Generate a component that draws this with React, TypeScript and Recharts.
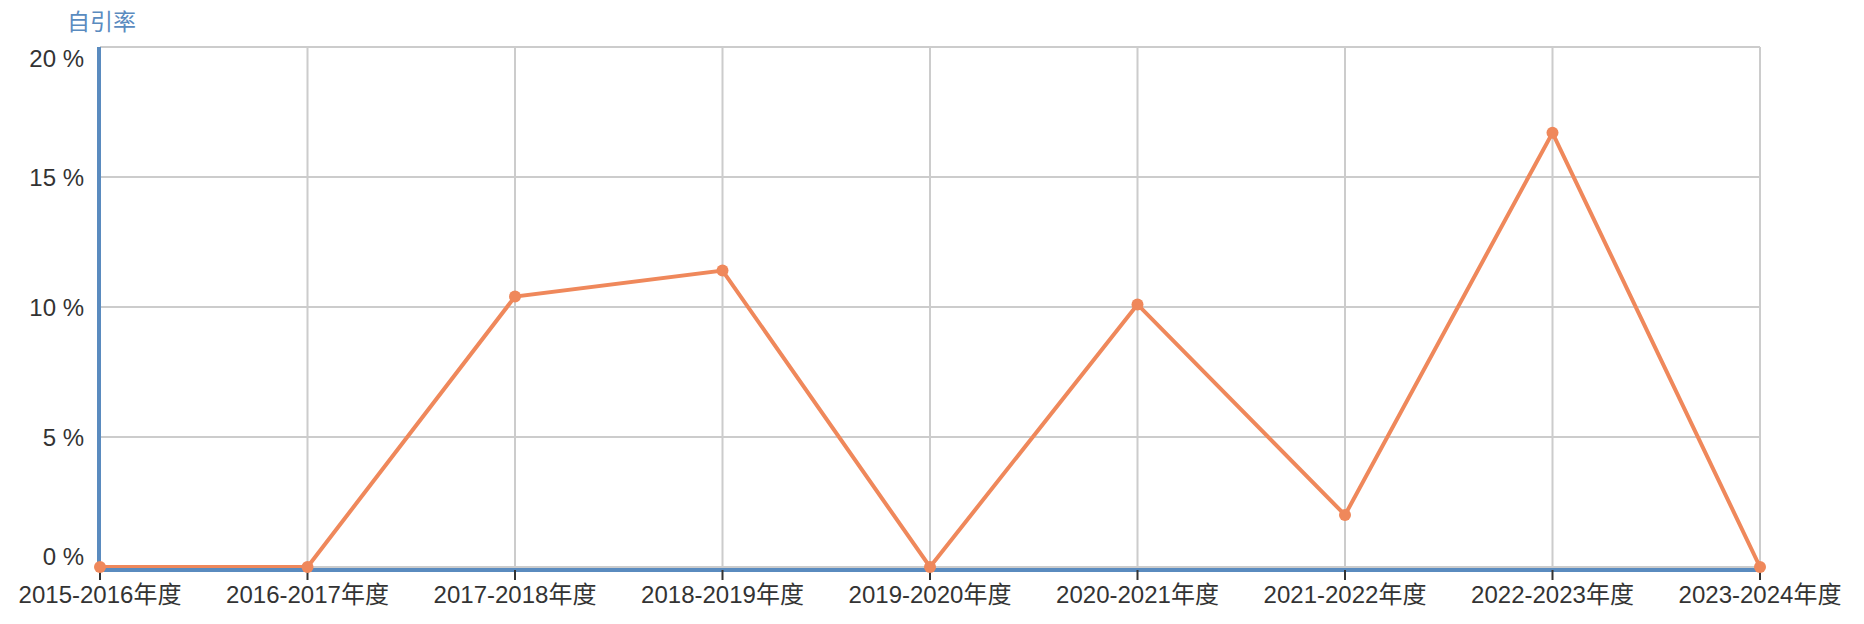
import { LineChart, Line, XAxis, YAxis, CartesianGrid } from "recharts"

const years = [
  "2015-2016年度",
  "2016-2017年度",
  "2017-2018年度",
  "2018-2019年度",
  "2019-2020年度",
  "2020-2021年度",
  "2021-2022年度",
  "2022-2023年度",
  "2023-2024年度",
]
const selfCiteRate = [0, 0, 10.4, 11.4, 0, 10.1, 2.0, 16.7, 0]
const yTicks = [0, 5, 10, 15, 20]

const data = years.map((name, i) => ({ name, rate: selfCiteRate[i] }))

const FONT = '"Liberation Sans", Arial, "Noto Sans CJK SC", sans-serif'
const BLUE = "#5a8bbf"
const ORANGE = "#ef885b"

function YTick(props: any) {
  const { x, y, payload } = props
  // top and bottom labels sit inside the plot like the original
  let shift = 0
  if (payload.value === 20) shift = 11
  if (payload.value === 0) shift = -11
  return (
    <text
      x={x}
      y={y + shift}
      dy="0.355em"
      textAnchor="end"
      fill="#333"
      fontSize={24}
      fontFamily={FONT}
    >
      {payload.value} %
    </text>
  )
}

export default function App() {
  return (
    <div style={{ position: "absolute", left: 0, top: 0, width: 1864, height: 624, background: "#fff" }}>
      <div
        style={{
          position: "absolute",
          left: 67,
          top: 11,
          fontSize: 23,
          lineHeight: 1,
          color: BLUE,
          fontFamily: FONT,
        }}
      >
        自引率
      </div>
      <LineChart
        width={1864}
        height={624}
        data={data}
        margin={{ top: 47, right: 104, bottom: 0, left: 0 }}
      >
        <CartesianGrid stroke="#cccccc" strokeWidth={2} />
        <XAxis
          dataKey="name"
          height={57}
          interval={0}
          tickSize={10}
          tickMargin={9}
          axisLine={{ stroke: BLUE, strokeWidth: 4, transform: "translate(0,3)" }}
          tickLine={{ stroke: "#333", strokeWidth: 2, transform: "translate(0,3)" }}
          tick={{ fill: "#333", fontSize: 24, fontFamily: FONT }}
        />
        <YAxis
          width={100}
          domain={[0, 20]}
          ticks={yTicks}
          interval={0}
          tickSize={6}
          tickMargin={10}
          tickLine={false}
          axisLine={{ stroke: BLUE, strokeWidth: 4, transform: "translate(-1,0)" }}
          tick={<YTick />}
        />
        <Line
          type="linear"
          dataKey="rate"
          stroke={ORANGE}
          strokeWidth={4}
          dot={{ r: 6, fill: ORANGE, stroke: ORANGE, strokeWidth: 0 }}
          activeDot={false}
          isAnimationActive={false}
        />
      </LineChart>
    </div>
  )
}
